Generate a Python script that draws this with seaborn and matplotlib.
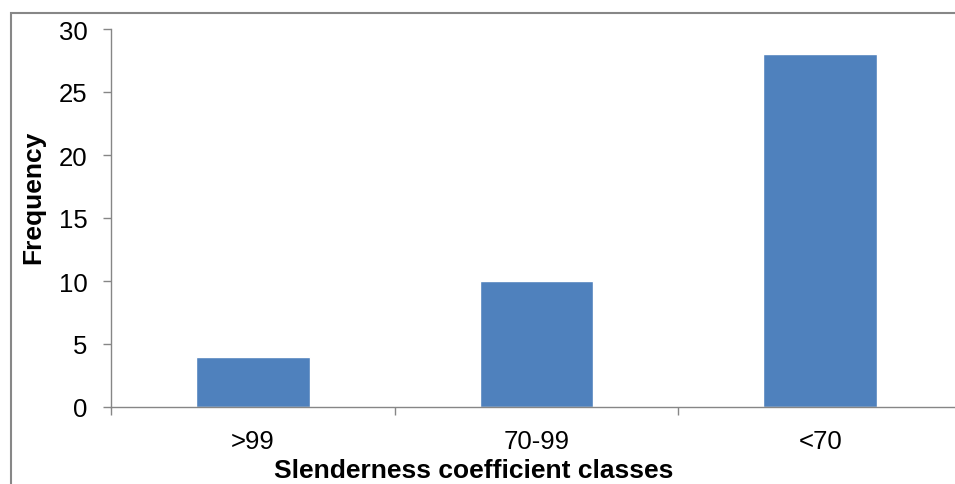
import pandas as pd
import seaborn as sns
import matplotlib.pyplot as plt
from matplotlib.patches import Rectangle

classes = [">99", "70-99", "<70"]
frequency = [4, 10, 28]

df = pd.DataFrame({"cls": classes, "freq": frequency})

sns.set_style("white")
plt.rcParams['font.family'] = ['Liberation Sans', 'DejaVu Sans']
plt.rcParams['text.color'] = 'black'
plt.rcParams['axes.labelcolor'] = 'black'
plt.rcParams['xtick.color'] = 'black'
plt.rcParams['ytick.color'] = 'black'

fig = plt.figure(figsize=(9.55, 4.85), dpi=100)
# axes area reaches past the right edge, as in the cropped original
ax = fig.add_axes([111 / 955, 77 / 485, 851 / 955, 378 / 485])

sns.barplot(data=df, x="cls", y="freq", color="#4F81BD", width=0.4,
            saturation=1, ax=ax)

ax.set_xlim(-0.5, 2.5)
ax.set_ylim(0, 30)
ax.set_yticks(range(0, 31, 5))
ax.set_xticks([-0.5, 0.5, 1.5, 2.5], minor=False)
ax.set_xticklabels([])
ax.set_xticks([0, 1, 2], minor=True)
ax.set_xticklabels(classes, minor=True)
ax.tick_params(axis="x", which="minor", length=0, pad=15.5, labelsize=18.5)
ax.tick_params(axis="x", which="major", length=5.5, width=1, color="#868686",
               direction="out", bottom=True)
ax.tick_params(axis="y", length=5.5, width=1, color="#868686", direction="out",
               pad=11.5, labelsize=18.5, left=True)

for s in ["top", "right"]:
    ax.spines[s].set_visible(False)
for s in ["left", "bottom"]:
    ax.spines[s].set_color("#868686")
    ax.spines[s].set_linewidth(1)

ax.set_ylabel("Frequency", fontsize=19, fontweight="bold")
ax.yaxis.set_label_coords(-0.0917, 0.558)
ax.set_xlabel("Slenderness coefficient classes", fontsize=19, fontweight="bold",
              va="center")
ax.xaxis.set_label_coords(0.4266, -0.167)
ax.yaxis.label.set_va("center")

# outer chart frame (cropped at right and bottom)
fig.patches.append(Rectangle((11 / 955, -0.1), 1.1, (485 - 14) / 485 + 0.1,
                             transform=fig.transFigure, fill=False,
                             edgecolor="#878787", linewidth=1.5))

fig.savefig("out.png", dpi=100)
